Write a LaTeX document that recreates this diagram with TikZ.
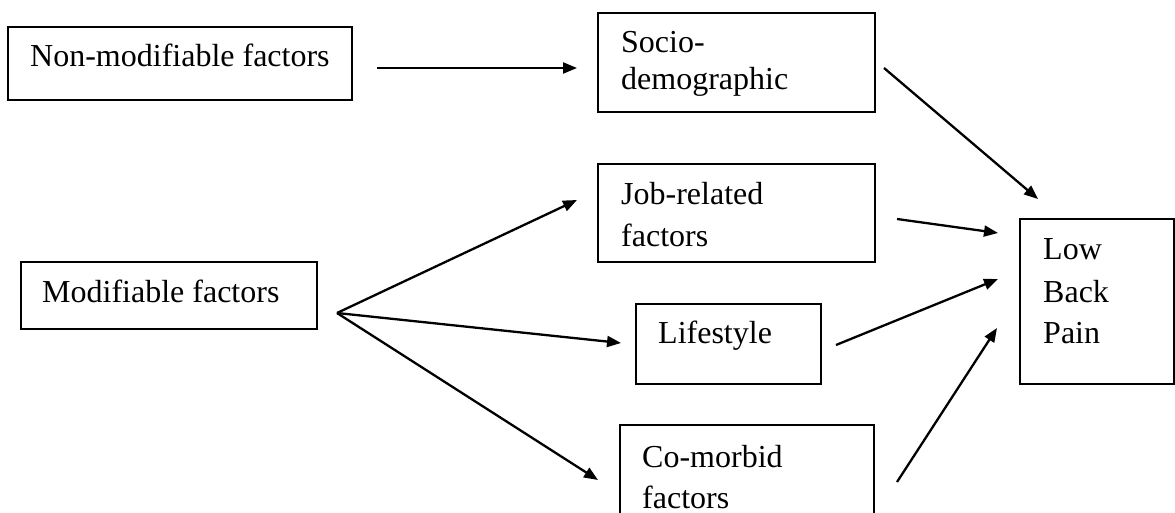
\documentclass[tikz,border=0pt]{standalone}
\usepackage{fontspec}
\setmainfont{Liberation Serif}
\usetikzlibrary{arrows.meta}
\begin{document}
\begin{tikzpicture}[x=1pt,y=-1pt,
  box/.style={draw,line width=2pt,minimum width=#1,inner sep=0pt},
  lbl/.style={anchor=base west,inner sep=0pt,font=\fontsize{32}{38}\selectfont},
  arr/.style={line width=2.3pt,-{Triangle[length=14pt,width=11pt]}}]
\useasboundingbox (0,0) rectangle (1175,513);
\begin{scope}
\clip (0,0) rectangle (1175,513);
% boxes
\node[box=344pt,minimum height=73pt] (nonmod) at (180,63.5) {};
\node[box=277pt,minimum height=99pt] (socio) at (736.5,62.5) {};
\node[box=277pt,minimum height=98pt] (job) at (736.5,213) {};
\node[box=296pt,minimum height=67pt] (mod) at (169,295.5) {};
\node[box=185pt,minimum height=80pt] (life) at (728.5,344) {};
\node[box=254pt,minimum height=100pt] (comorb) at (747,475) {};
\node[box=154pt,minimum height=165pt] (lbp) at (1097,301.5) {};
\end{scope}
% labels
\node[lbl] (t1) at (30,67) {Non-modifiable factors};
\node[lbl] (t2) at (621,53) {Socio-};
\node[lbl] (t3) at (621,90) {demographic};
\node[lbl] (t4) at (621,205) {Job-related};
\node[lbl] (t5) at (621,247) {factors};
\node[lbl] (t6) at (42,302) {Modifiable factors};
\node[lbl] (t7) at (658,343) {Lifestyle};
\node[lbl] (t8) at (642,467) {Co-morbid};
\node[lbl] (t9) at (642,508) {factors};
\node[lbl] (t10) at (1043,259) {Low};
\node[lbl] (t11) at (1043,302) {Back};
\node[lbl] (t12) at (1043,343) {Pain};
% connector ends
\coordinate (a1) at (377,68);
\coordinate (a2) at (577,68);
\coordinate (fan) at (337,313);
\coordinate (e1) at (577,200);
\coordinate (e2) at (621,343);
\coordinate (e3) at (598,480);
\coordinate (s1) at (884,68);
\coordinate (s2) at (1038,199);
\coordinate (j1) at (897,219);
\coordinate (j2) at (998,233);
\coordinate (l1) at (836,345);
\coordinate (l2) at (998,279);
\coordinate (c1) at (897,482);
\coordinate (c2) at (997,328);
% arrows
\draw[arr] (a1) -- (a2);
\draw[arr] (fan) -- (e1);
\draw[arr] (fan) -- (e2);
\draw[arr] (fan) -- (e3);
\draw[arr] (s1) -- (s2);
\draw[arr] (j1) -- (j2);
\draw[arr] (l1) -- (l2);
\draw[arr] (c1) -- (c2);
\end{tikzpicture}
\end{document}
